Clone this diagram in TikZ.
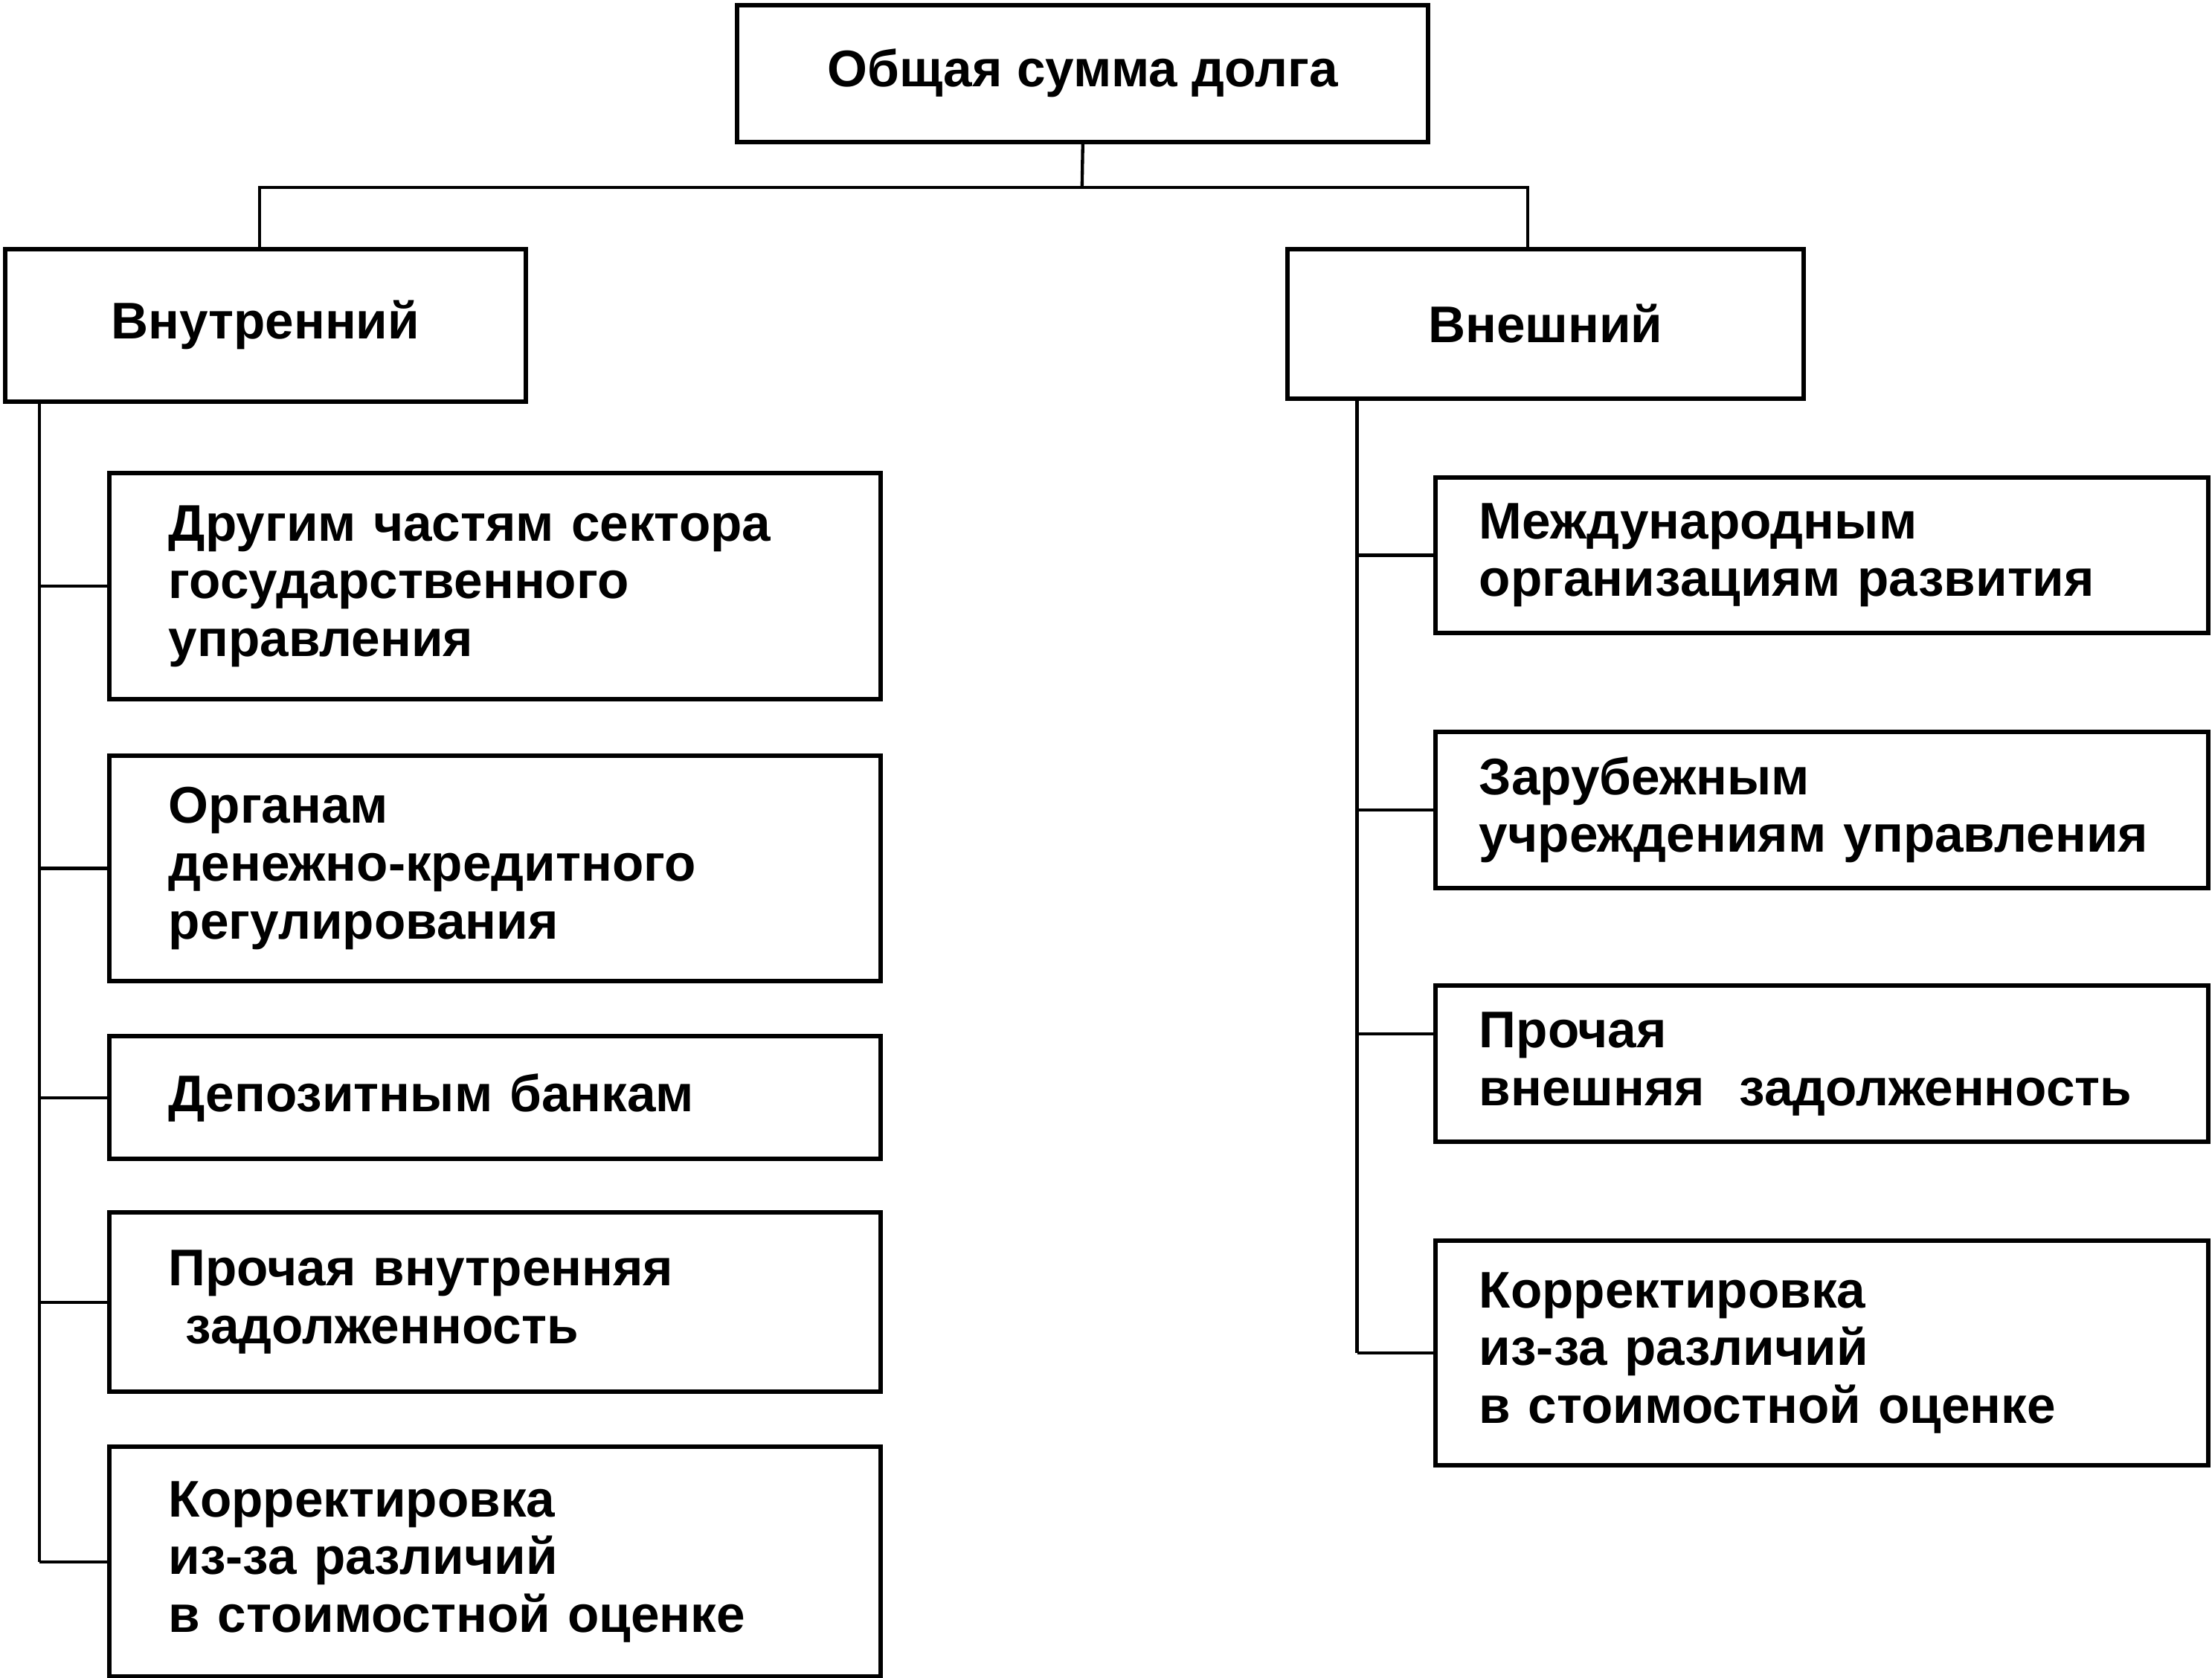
\documentclass[tikz,border=0pt]{standalone}
\usepackage{fontspec}
\setmainfont{Liberation Sans}
\usepackage{tikz}
\usetikzlibrary{calc}

\tikzset{
    box/.style={draw, line width=1.8pt, rectangle, anchor=north west, inner ysep=0pt,
        font=\bfseries\fontsize{20.8}{23.3}\selectfont},
    kid/.style={box, align=left, inner xsep=0.84cm, text width=9.26cm},
    kidR/.style={box, align=left, inner xsep=0.62cm, text width=9.72cm},
    link/.style={line width=1.3pt}
}

\begin{document}
\begin{tikzpicture}[x=0.02cm, y=-0.02cm]
\useasboundingbox (0,0) rectangle (1568,1189);

%%% blocs

% somme
\node[box, minimum width=9.8cm, minimum height=1.94cm] (top) at (521,2) {Общая сумма долга};

% niveau 2
\node[box, minimum width=7.38cm, minimum height=2.16cm] (inner) at (2,175) {Внутренний};
\node[box, minimum width=7.32cm, minimum height=2.12cm] (outer) at (911,175) {Внешний};

% interne
\node[kid, minimum width=10.94cm, minimum height=3.2cm] (L1) at (76,334)
    {Другим частям сектора\\государственного\\управления};
\node[kid, minimum width=10.94cm, minimum height=3.2cm] (L2) at (76,534)
    {Органам\\денежно-кредитного\\регулирования};
\node[kid, minimum width=10.94cm, minimum height=1.74cm] (L3) at (76,733)
    {Депозитным банкам};
\node[kid, minimum width=10.94cm, minimum height=2.54cm] (L4) at (76,858)
    {Прочая внутренняя\\\ задолженность};
\node[kid, minimum width=10.94cm, minimum height=3.26cm] (L5) at (76,1024)
    {Корректировка\\из-за различий\\в стоимостной оценке};

% externe
\node[kidR, minimum width=10.96cm, minimum height=2.2cm] (R1) at (1016,337)
    {Международным\\организациям развития};
\node[kidR, minimum width=10.96cm, minimum height=2.22cm] (R2) at (1016,517)
    {Зарубежным\\учреждениям управления};
\node[kidR, minimum width=10.96cm, minimum height=2.22cm] (R3) at (1016,697)
    {Прочая\\внешняя\ \ задолженность};
\node[kidR, minimum width=10.96cm, minimum height=3.18cm] (R4) at (1016,878)
    {Корректировка\\из-за различий\\в стоимостной оценке};

%%% liens

% arbre haut
\coordinate (bus) at (767,133);
\coordinate (dL) at (184,175);
\coordinate (dR) at (1083,175);
\draw[link] (top.south) -- (bus);
\draw[link] (dL) |- (bus) -| (dR);

% colonne gauche
\coordinate (sL) at (28,283);
\draw[link] (sL) -- (sL |- L5.west);
\draw[link] (sL |- L1.west) -- (L1.west);
\draw[link] (sL |- L2.west) -- (L2.west);
\draw[link] (sL |- L3.west) -- (L3.west);
\draw[link] (sL |- L4.west) -- (L4.west);
\draw[link] (sL |- L5.west) -- (L5.west);

% colonne droite
\coordinate (sR) at (962,281);
\coordinate (c3) at (1016,733);
\draw[link] (sR) -- (sR |- R4.west);
\draw[link] (sR |- R1.west) -- (R1.west);
\draw[link] (sR |- R2.west) -- (R2.west);
\draw[link] (sR |- c3) -- (c3);
\draw[link] (sR |- R4.west) -- (R4.west);

\end{tikzpicture}
\end{document}
